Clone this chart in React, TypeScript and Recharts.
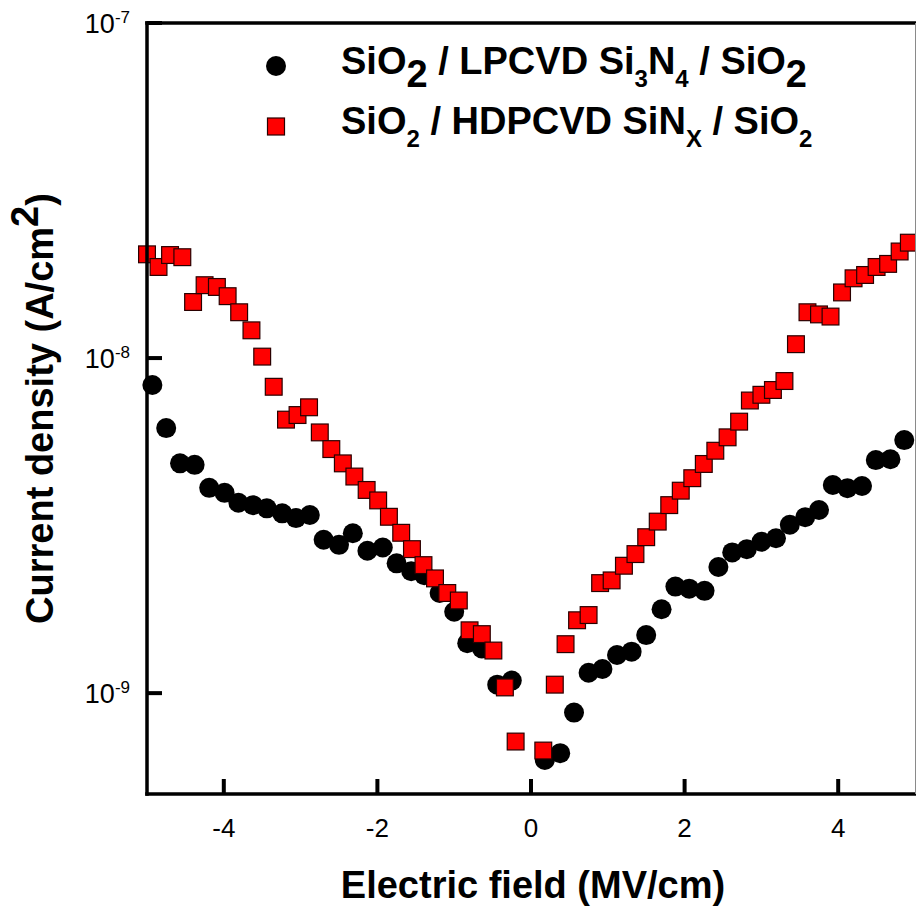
import { Scatter, ScatterChart, XAxis, YAxis } from 'recharts'

// electric field (MV/cm) and leakage current density (A/cm^2) per stack
const lpcvdField = [
  -4.93, -4.75, -4.57, -4.38, -4.19, -3.99, -3.81, -3.62, -3.44, -3.24, -3.06, -2.88, -2.7,
  -2.5, -2.32, -2.13, -1.93, -1.75, -1.56, -1.39, -1.19, -1.0, -0.83, -0.64, -0.44, -0.25,
  0.18, 0.38, 0.56, 0.75, 0.93, 1.12, 1.31, 1.5, 1.7, 1.88, 2.06, 2.26, 2.44, 2.62, 2.81, 3.0,
  3.19, 3.37, 3.57, 3.75, 3.93, 4.12, 4.31, 4.49, 4.68, 4.86,
]
const lpcvdCurrent = [
  8.31e-9, 6.18e-9, 4.85e-9, 4.8e-9, 4.1e-9, 3.96e-9, 3.7e-9, 3.64e-9, 3.56e-9, 3.44e-9,
  3.33e-9, 3.4e-9, 2.87e-9, 2.77e-9, 3.0e-9, 2.66e-9, 2.72e-9, 2.44e-9, 2.31e-9, 2.25e-9,
  1.99e-9, 1.75e-9, 1.41e-9, 1.36e-9, 1.06e-9, 1.09e-9, 6.32e-10, 6.62e-10, 8.75e-10, 1.15e-9,
  1.18e-9, 1.3e-9, 1.33e-9, 1.49e-9, 1.78e-9, 2.08e-9, 2.05e-9, 2.02e-9, 2.38e-9, 2.63e-9,
  2.69e-9, 2.83e-9, 2.9e-9, 3.18e-9, 3.35e-9, 3.52e-9, 4.18e-9, 4.09e-9, 4.15e-9, 4.96e-9,
  4.99e-9, 5.69e-9,
]

const hdpField = [
  -5.0, -4.85, -4.7, -4.54, -4.4, -4.25, -4.09, -3.95, -3.8, -3.64, -3.5, -3.35, -3.19, -3.04,
  -2.89, -2.75, -2.6, -2.45, -2.3, -2.14, -1.99, -1.85, -1.69, -1.55, -1.4, -1.25, -1.09,
  -0.94, -0.8, -0.64, -0.49, -0.34, -0.2, 0.16, 0.31, 0.45, 0.6, 0.75, 0.9, 1.05, 1.21, 1.36,
  1.5, 1.65, 1.8, 1.95, 2.1, 2.25, 2.4, 2.56, 2.71, 2.85, 3.0, 3.15, 3.3, 3.45, 3.6, 3.75,
  3.9, 4.05, 4.2, 4.35, 4.5, 4.65, 4.8, 4.92,
]
const hdpCurrent = [
  2.04e-8, 1.87e-8, 2.03e-8, 2.0e-8, 1.47e-8, 1.65e-8, 1.63e-8, 1.53e-8, 1.37e-8, 1.21e-8,
  1.01e-8, 8.21e-9, 6.55e-9, 6.76e-9, 7.13e-9, 6.0e-9, 5.35e-9, 4.85e-9, 4.43e-9, 4.04e-9,
  3.76e-9, 3.36e-9, 3.01e-9, 2.69e-9, 2.41e-9, 2.2e-9, 1.99e-9, 1.89e-9, 1.54e-9, 1.5e-9,
  1.34e-9, 1.04e-9, 7.17e-10, 6.74e-10, 1.06e-9, 1.4e-9, 1.65e-9, 1.71e-9, 2.13e-9, 2.17e-9,
  2.4e-9, 2.6e-9, 2.92e-9, 3.25e-9, 3.64e-9, 4.02e-9, 4.38e-9, 4.83e-9, 5.29e-9, 5.8e-9,
  6.46e-9, 7.47e-9, 7.77e-9, 8.03e-9, 8.54e-9, 1.1e-8, 1.37e-8, 1.35e-8, 1.33e-8, 1.57e-8,
  1.73e-8, 1.77e-8, 1.87e-8, 1.91e-8, 2.08e-8, 2.21e-8,
]

const fieldTicks = [-4, -2, 0, 2, 4]
const currentTicks = [1e-9, 1e-8, 1e-7]

const lpcvd = lpcvdField.map((x, i) => ({ x, y: lpcvdCurrent[i] }))
const hdp = hdpField.map((x, i) => ({ x, y: hdpCurrent[i] }))

const X_MIN = -5
const X_MAX = 5
const Y_MIN = 5e-10
const Y_MAX = 1e-7

const FONT = '"Liberation Sans", Arial, sans-serif'
const W = 916
const H = 911

// plot box (chart margins + axis sizes are derived from these)
const LEFT = 147
const TOP = 23
const RIGHT = 915
const BOTTOM = 794
const FRAME_W = 3.5
const TICK_W = 4
const TICK_LEN = 15

// same mapping as the chart's linear x / log y axes, for the inward tick marks
const fx = (v: number) => LEFT + ((v - X_MIN) / (X_MAX - X_MIN)) * (RIGHT - LEFT)
const fy = (v: number) =>
  BOTTOM -
  ((Math.log10(v) - Math.log10(Y_MIN)) / (Math.log10(Y_MAX) - Math.log10(Y_MIN))) * (BOTTOM - TOP)

function FieldTick({ x, y, payload }: any) {
  return (
    <text x={x} y={y + 43} textAnchor="middle" fontSize={26} fontFamily={FONT} fill="#000">
      {String(payload.value)}
    </text>
  )
}

function CurrentTick({ x, y, payload }: any) {
  const exp = Math.round(Math.log10(payload.value))
  return (
    <text x={x - 17} y={y + 10} textAnchor="end" fontSize={27} fontFamily={FONT} fill="#000">
      10
      <tspan dy={-10} fontSize={17}>
        {exp}
      </tspan>
    </text>
  )
}

function FieldTitle(p: any) {
  const vb = p.viewBox ?? { x: LEFT, y: BOTTOM, width: RIGHT - LEFT, height: H - BOTTOM }
  return (
    <text
      x={vb.x + vb.width / 2 + 2}
      y={vb.y + 104}
      textAnchor="middle"
      fontSize={38}
      fontWeight="bold"
      fontFamily={FONT}
      fill="#000"
    >
      Electric field (MV/cm)
    </text>
  )
}

function CurrentTitle(p: any) {
  const vb = p.viewBox ?? { x: 0, y: TOP, width: LEFT, height: BOTTOM - TOP }
  const cy = vb.y + vb.height / 2
  return (
    <text
      transform={`translate(53,${cy}) rotate(-90)`}
      textAnchor="middle"
      fontSize={38}
      fontWeight="bold"
      fontFamily={FONT}
      fill="#000"
    >
      Current density (A/cm
      <tspan dy={-15}>2</tspan>
      <tspan dy={15}>)</tspan>
    </text>
  )
}

const Dot = ({ cx, cy }: any) => <circle cx={cx} cy={cy} r={10} fill="#000" />

const Box = ({ cx, cy }: any) => (
  <rect x={cx - 8.4} y={cy - 8.4} width={16.8} height={16.8} fill="#ff0000" stroke="#2a0000" strokeWidth={1.2} />
)

function Overlay() {
  const h = FRAME_W / 2
  return (
    <svg width={W} height={H} style={{ position: 'absolute', left: 0, top: 0, pointerEvents: 'none' }}>
      {/* plot frame */}
      <rect x={LEFT - h} y={TOP - h} width={RIGHT - LEFT + FRAME_W} height={FRAME_W} fill="#000" />
      <rect x={LEFT - h} y={BOTTOM - h} width={RIGHT - LEFT + FRAME_W} height={FRAME_W} fill="#000" />
      <rect x={LEFT - h} y={TOP - h} width={FRAME_W} height={BOTTOM - TOP + FRAME_W} fill="#000" />
      <rect x={RIGHT} y={TOP} width={1} height={BOTTOM - TOP} fill="#8a8a8a" />
      {/* inward tick marks */}
      {fieldTicks.map((t) => (
        <rect key={`xt${t}`} x={fx(t) - TICK_W / 2} y={BOTTOM - TICK_LEN} width={TICK_W} height={TICK_LEN} fill="#000" />
      ))}
      {currentTicks.map((t) => (
        <rect key={`yt${t}`} x={LEFT} y={fy(t) - TICK_W / 2} width={TICK_LEN} height={TICK_W} fill="#000" />
      ))}
      {/* legend */}
      <circle cx={276} cy={66} r={10} fill="#000" />
      <text x={341} y={74} fontSize={38} fontWeight="bold" fontFamily={FONT} fill="#000">
        SiO
        <tspan dy={13}>2</tspan>
        <tspan dy={-13}> / LPCVD Si</tspan>
        <tspan dy={13} fontSize={24}>3</tspan>
        <tspan dy={-13}>N</tspan>
        <tspan dy={13} fontSize={24}>4</tspan>
        <tspan dy={-13}> / SiO</tspan>
        <tspan dy={13}>2</tspan>
      </text>
      <rect x={267.5} y={118} width={17} height={17} fill="#ff0000" stroke="#2a0000" strokeWidth={1.2} />
      <text x={341} y={133.5} fontSize={38} fontWeight="bold" fontFamily={FONT} fill="#000">
        SiO
        <tspan dy={13} fontSize={24}>2</tspan>
        <tspan dy={-13}> / HDPCVD SiN</tspan>
        <tspan dy={13} fontSize={24}>X</tspan>
        <tspan dy={-13}> / SiO</tspan>
        <tspan dy={13} fontSize={24}>2</tspan>
      </text>
    </svg>
  )
}

export default function App() {
  return (
    <div style={{ position: 'absolute', left: 0, top: 0, width: W, height: H, background: '#fff' }}>
      <ScatterChart width={W} height={H} margin={{ top: TOP, right: W - RIGHT, left: 0, bottom: 0 }}>
        <XAxis
          type="number"
          dataKey="x"
          domain={[X_MIN, X_MAX]}
          ticks={fieldTicks}
          height={H - BOTTOM}
          tickSize={0}
          tickMargin={0}
          tickLine={false}
          axisLine={false}
          tick={<FieldTick />}
          label={(p: any) => <FieldTitle {...p} />}
        />
        <YAxis
          type="number"
          dataKey="y"
          scale="log"
          domain={[Y_MIN, Y_MAX]}
          ticks={currentTicks}
          width={LEFT}
          tickSize={0}
          tickMargin={0}
          tickLine={false}
          axisLine={false}
          tick={<CurrentTick />}
          label={(p: any) => <CurrentTitle {...p} />}
        />
        <Scatter data={lpcvd} shape={<Dot />} isAnimationActive={false} />
        <Scatter data={hdp} shape={<Box />} isAnimationActive={false} />
      </ScatterChart>
      <Overlay />
    </div>
  )
}
